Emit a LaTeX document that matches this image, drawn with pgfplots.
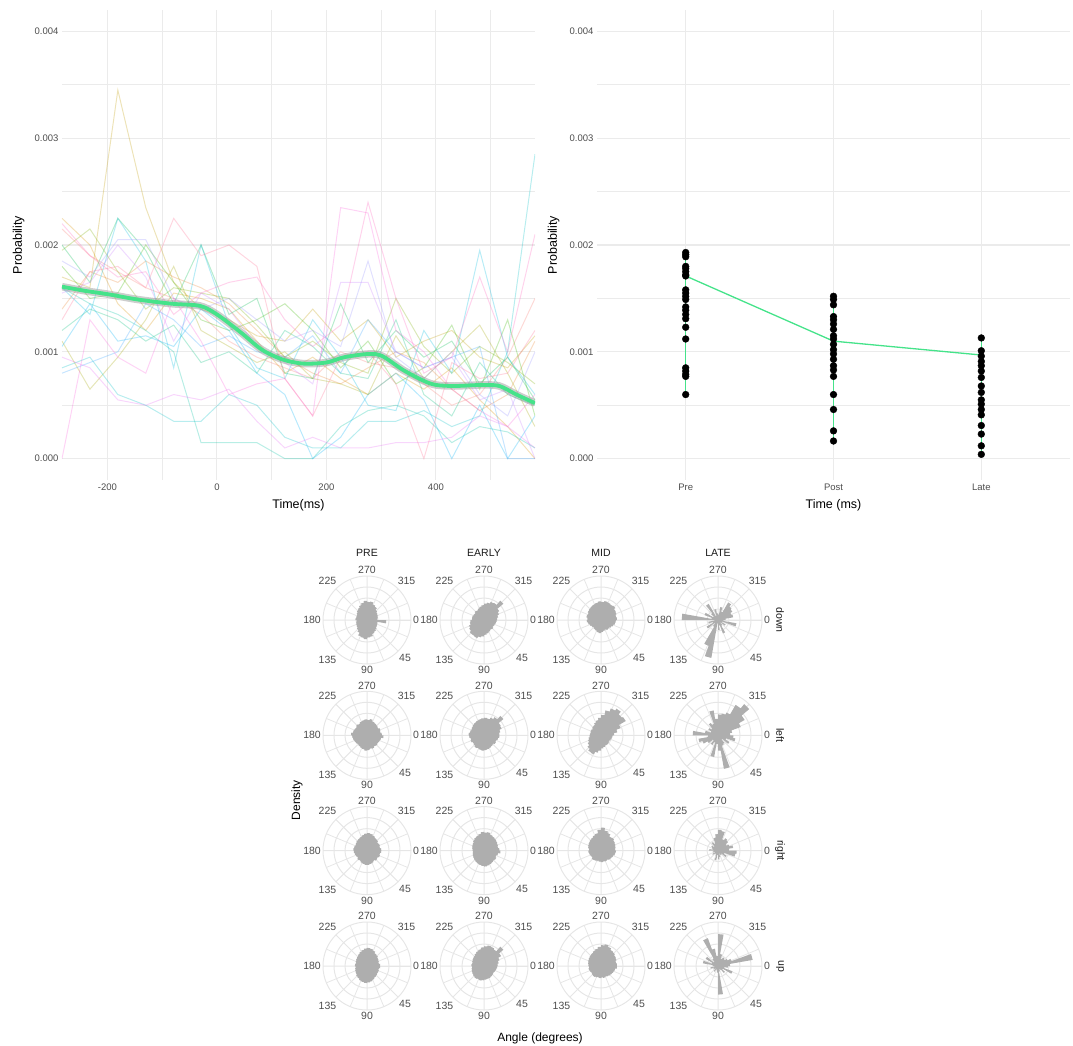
\documentclass[border=0pt]{standalone}
\usepackage{fontspec}
\setmainfont{Liberation Sans}
\usepackage{pgfplots}
\usepackage{pgfplotstable}
\pgfplotsset{compat=1.18}
\usepgfplotslibrary{polar}

\definecolor{gridc}{HTML}{EBEBEB}
\definecolor{pgridc}{HTML}{E6E6E6}
\definecolor{tickc}{HTML}{4D4D4D}
\definecolor{stripc}{HTML}{1A1A1A}
\definecolor{rosec}{HTML}{AEAEAE}
\definecolor{smoothg}{HTML}{45E38A}
\definecolor{h1}{HTML}{F8766D}\definecolor{h2}{HTML}{EA8331}\definecolor{h3}{HTML}{D89000}
\definecolor{h4}{HTML}{C09B00}\definecolor{h5}{HTML}{A3A500}\definecolor{h6}{HTML}{7CAE00}
\definecolor{h7}{HTML}{39B600}\definecolor{h8}{HTML}{00BB4E}\definecolor{h9}{HTML}{00BF7D}
\definecolor{h10}{HTML}{00C1A3}\definecolor{h11}{HTML}{00BFC4}\definecolor{h12}{HTML}{00BAE0}
\definecolor{h13}{HTML}{00B0F6}\definecolor{h14}{HTML}{35A2FF}\definecolor{h15}{HTML}{9590FF}
\definecolor{h16}{HTML}{C77CFF}\definecolor{h17}{HTML}{E76BF3}\definecolor{h18}{HTML}{FA62DB}
\definecolor{h19}{HTML}{FF62BC}\definecolor{h20}{HTML}{FF6C91}

\pgfplotstableread{
name b0 b1 b2 b3 b4 b5 b6 b7 b8 b9 b10 b11 b12 b13 b14 b15 b16 b17
t -283 -232 -181 -130 -79 -29 22 73 124 175 226 276 327 378 429 480 531 581
s1 0.00215 0.00190 0.00175 0.00160 0.00150 0.00135 0.00110 0.00095 0.00085 0.00075 0.00100 0.00090 0.00085 0.00070 0.00050 0.00060 0.00095 0.00150
s2 0.00140 0.00175 0.00165 0.00185 0.00170 0.00160 0.00145 0.00120 0.00095 0.00080 0.00070 0.00085 0.00100 0.00090 0.00065 0.00045 0.00060 0.00110
s3 0.00225 0.00200 0.00145 0.00120 0.00155 0.00150 0.00140 0.00110 0.00080 0.00095 0.00075 0.00060 0.00080 0.00065 0.00085 0.00055 0.00030 0.00000
s4 0.00170 0.00160 0.00345 0.00235 0.00165 0.00140 0.00130 0.00115 0.00110 0.00140 0.00110 0.00130 0.00095 0.00110 0.00120 0.00095 0.00085 0.00115
s5 0.00110 0.00065 0.00095 0.00130 0.00180 0.00120 0.00105 0.00090 0.00100 0.00075 0.00070 0.00060 0.00115 0.00075 0.00100 0.00125 0.00080 0.00030
s6 0.00195 0.00215 0.00175 0.00140 0.00160 0.00155 0.00150 0.00125 0.00095 0.00110 0.00090 0.00080 0.00150 0.00105 0.00080 0.00105 0.00090 0.00070
s7 0.00180 0.00150 0.00155 0.00200 0.00165 0.00130 0.00120 0.00130 0.00145 0.00120 0.00085 0.00110 0.00070 0.00085 0.00125 0.00065 0.00130 0.00040
s8 0.00200 0.00165 0.00225 0.00195 0.00145 0.00200 0.00135 0.00150 0.00080 0.00075 0.00145 0.00090 0.00120 0.00095 0.00110 0.00070 0.00095 0.00055
s9 0.00120 0.00140 0.00130 0.00110 0.00125 0.00090 0.00100 0.00080 0.00120 0.00105 0.00080 0.00075 0.00130 0.00060 0.00040 0.00090 0.00060 0.00050
s10 0.00160 0.00145 0.00135 0.00120 0.00100 0.00015 0.00015 0.00015 0.00000 0.00000 0.00030 0.00045 0.00050 0.00040 0.00015 0.00030 0.00025 0.00010
s11 0.00085 0.00095 0.00060 0.00050 0.00035 0.00035 0.00060 0.00050 0.00020 0.00010 0.00010 0.00035 0.00035 0.00045 0.00030 0.00040 0.00100 0.00285
s12 0.00160 0.00135 0.00225 0.00185 0.00085 0.00200 0.00125 0.00085 0.00075 0.00130 0.00095 0.00050 0.00045 0.00120 0.00080 0.00195 0.00095 0.00060
s13 0.00105 0.00145 0.00110 0.00115 0.00105 0.00140 0.00120 0.00080 0.00060 0.00000 0.00020 0.00060 0.00080 0.00055 0.00000 0.00050 0.00000 0.00040
s14 0.00080 0.00090 0.00100 0.00145 0.00130 0.00105 0.00115 0.00100 0.00095 0.00115 0.00080 0.00130 0.00100 0.00085 0.00095 0.00105 0.00000 0.00000
s15 0.00185 0.00170 0.00205 0.00205 0.00150 0.00140 0.00150 0.00130 0.00110 0.00120 0.00105 0.00185 0.00095 0.00075 0.00100 0.00060 0.00040 0.00100
s16 0.00155 0.00165 0.00200 0.00170 0.00110 0.00155 0.00140 0.00105 0.00090 0.00070 0.00165 0.00165 0.00100 0.00085 0.00095 0.00055 0.00065 0.00000
s17 0.00095 0.00085 0.00055 0.00050 0.00060 0.00055 0.00065 0.00035 0.00010 0.00020 0.00010 0.00010 0.00015 0.00015 0.00020 0.00040 0.00030 0.00010
s18 0.00000 0.00130 0.00095 0.00080 0.00150 0.00110 0.00060 0.00070 0.00075 0.00040 0.00235 0.00230 0.00120 0.00100 0.00065 0.00045 0.00030 0.00060
s19 0.00220 0.00190 0.00170 0.00175 0.00135 0.00155 0.00165 0.00170 0.00130 0.00105 0.00125 0.00240 0.00150 0.00080 0.00095 0.00170 0.00100 0.00210
s20 0.00130 0.00175 0.00180 0.00160 0.00225 0.00190 0.00200 0.00180 0.00075 0.00040 0.00095 0.00100 0.00070 0.00000 0.00090 0.00075 0.00080 0.00120
}\rawlines
\pgfplotstabletranspose[colnames from=name, input colnames to=bin]{\lines}{\rawlines}

\pgfplotstableread{
t p
-283 0.00161
-240 0.00157
-200 0.00154
-145 0.00149
-82 0.00145
-31 0.00143
0 0.00135
44 0.00118
82 0.00102
119 0.00093
157 0.00089
200 0.00090
233 0.00095
277 0.00098
302 0.00096
340 0.00083
377 0.00073
400 0.00069
434 0.00068
484 0.00069
516 0.00068
547 0.00060
581 0.00052
}\smoothdata

\newcount\rosebin
\newcommand\buildrose[1]{%
  \gdef\rosecoords{}\global\rosebin=0
  \foreach \rv in {#1}{%
    \pgfmathtruncatemacro\ra{360-10*\the\rosebin}%
    \pgfmathtruncatemacro\rb{350-10*\the\rosebin}%
    \xdef\rosecoords{\rosecoords (\ra,\rv) (\rb,\rv)}%
    \global\advance\rosebin by 1
  }}
\newcommand\roseplot[1]{%
  \buildrose{#1}%
  \edef\tmp{\noexpand\addplot[fill=rosec, draw=none] coordinates {\rosecoords} -- cycle;}\tmp}

\pgfplotsset{
  every axis x label/.style={at={(axis description cs:0.5,-0.034)}, anchor=north},
  every axis y label/.style={at={(axis description cs:-0.072,0.5)}, rotate=90, anchor=south},
  topax/.style={scale only axis, width=473pt, height=470pt, anchor=south west,
    ymin=-0.0002, ymax=0.0042, ytick={0,0.001,0.002,0.003,0.004},
    yticklabels={0.000,0.001,0.002,0.003,0.004},
    minor ytick={0.0005,0.0015,0.0025,0.0035}, scaled y ticks=false, scaled x ticks=false,
    ymajorgrids, yminorgrids, xmajorgrids,
    major grid style={draw=gridc, line width=1.1pt},
    minor grid style={draw=gridc, line width=0.7pt},
    axis line style={draw=none}, major tick length=0pt, minor tick length=0pt,
    tick label style={font=\fontsize{9.5}{11}\selectfont, text=tickc},
    label style={font=\fontsize{12.5}{14}\selectfont}},
  rose/.style={scale only axis, width=88pt, height=88pt, anchor=center,
    xmin=0, xmax=360, ymin=0, ymax=4,
    xtick={0,45,...,315}, xticklabels={0,315,270,225,180,135,90,45},
    minor xtick={22.5,67.5,...,337.5},
    ytick={1,2,3}, yticklabel style={text opacity=0, opacity=0},
    xmajorgrids, xminorgrids, ymajorgrids,
    major grid style={draw=pgridc, line width=1pt},
    minor grid style={draw=pgridc, line width=0.8pt},
    axis line style={draw=pgridc, line width=1pt},
    major tick length=0pt, minor tick length=0pt,
    xticklabel style={font=\fontsize{10.5}{12}\selectfont, text=tickc, inner sep=2pt},
    clip=false}
}

\begin{document}
\begin{tikzpicture}
\useasboundingbox (0,0) rectangle (1073pt,-1046pt);

% ---------- top left ----------
\begin{axis}[topax, at={(62pt,-480pt)},
  xmin=-283, xmax=581, xtick={-200,0,200,400}, xticklabels={-200,0,200,400},
  minor xtick={-100,100,300,500}, xminorgrids,
  xlabel={Time(ms)}, ylabel={Probability}]
\pgfplotsinvokeforeach{1,...,20}{
  \addplot[draw=h#1, line width=1pt, draw opacity=0.28, forget plot] table[x=t, y=s#1]{\lines};
}
\addplot[draw=gray!85, line width=7.5pt, draw opacity=0.45, smooth] table[x=t,y=p]{\smoothdata};
\addplot[draw=smoothg, line width=3.8pt, smooth] table[x=t,y=p]{\smoothdata};
\end{axis}

% ---------- top right ----------
\begin{axis}[topax, at={(597pt,-480pt)},
  xmin=0.4, xmax=3.6, xtick={1,2,3}, xticklabels={Pre,Post,Late},
  xlabel={Time (ms)}, ylabel={Probability}]
\addplot[only marks, mark=*, mark size=3.4pt, black] coordinates {
(1,0.00193) (1,0.00191) (1,0.00189) (1,0.00180) (1,0.00178) (1,0.00175) (1,0.00172) (1,0.00171)
(1,0.00158) (1,0.00155) (1,0.00152) (1,0.00149) (1,0.00142) (1,0.00139) (1,0.00135) (1,0.00131)
(1,0.00123) (1,0.00112) (1,0.00085) (1,0.00082) (1,0.00079) (1,0.00077) (1,0.00060)
(2,0.00152) (2,0.00149) (2,0.00144) (2,0.00133) (2,0.00130) (2,0.00126) (2,0.00121) (2,0.00115)
(2,0.00112) (2,0.00107) (2,0.00102) (2,0.00098) (2,0.00093) (2,0.00087) (2,0.00083) (2,0.00077)
(2,0.00060) (2,0.00046) (2,0.00026) (2,0.000165)
(3,0.00113) (3,0.00101) (3,0.00096) (3,0.00091) (3,0.00087) (3,0.00082) (3,0.00076) (3,0.00068)
(3,0.00062) (3,0.00055) (3,0.00051) (3,0.00046) (3,0.00041) (3,0.00031) (3,0.00023) (3,0.00012)
(3,0.00004)};
\addplot[smoothg, line width=1.3pt] coordinates {(1,0.00060) (1,0.00193)};
\addplot[smoothg, line width=1.3pt] coordinates {(2,0.000165) (2,0.00152)};
\addplot[smoothg, line width=1.3pt] coordinates {(3,0.00004) (3,0.00113)};
\addplot[smoothg, line width=1.3pt] coordinates {(1,0.00171) (2,0.00110) (3,0.00097)};
\end{axis}

% ---------- polar grid: rows down,left,right,up ; cols PRE,EARLY,MID,LATE ----------
% row down
\begin{polaraxis}[rose, at={(367pt,-620pt)}]
\roseplot{1.75,0.95,1.0,1.05,1.15,1.25,1.35,1.55,1.6,1.75,1.65,1.6,1.35,1.2,1.1,1.05,1.0,0.95,1.05,1.0,1.0,1.1,1.2,1.3,1.45,1.6,1.75,1.65,1.7,1.5,1.4,1.2,1.1,1.05,1.0,0.95}
\end{polaraxis}
\begin{polaraxis}[rose, at={(484pt,-620pt)}]
\roseplot{1.15,1.1,1.05,1.0,1.1,1.05,1.15,1.25,1.35,1.5,1.6,1.75,1.7,1.7,1.55,1.45,1.3,1.25,1.1,1.1,1.05,1.0,1.1,1.05,1.15,1.25,1.35,1.5,1.6,1.75,1.8,2.3,1.6,1.45,1.3,1.2}
\end{polaraxis}
\begin{polaraxis}[rose, at={(601pt,-620pt)}]
\roseplot{1.35,1.3,1.2,1.1,1.0,1.05,0.95,1.0,1.1,1.2,1.15,1.05,1.0,0.95,1.0,1.1,1.2,1.3,1.25,1.35,1.3,1.4,1.45,1.5,1.55,1.6,1.7,1.65,1.75,1.7,1.65,1.7,1.55,1.5,1.4,1.45}
\end{polaraxis}
\begin{polaraxis}[rose, at={(718pt,-620pt)}]
\roseplot{0.5,1.7,0.4,0.8,0.3,0.6,1.3,0.5,0.9,0.3,3.5,2.5,0.7,0.4,1.2,0.5,0.9,0.3,3.3,0.6,1.3,0.5,0.8,1.7,0.4,1.0,0.6,0.5,1.2,0.8,1.85,1.6,1.5,1.3,1.4,0.7}
\end{polaraxis}
% row left
\begin{polaraxis}[rose, at={(367pt,-735.3pt)}]
\roseplot{1.5,1.3,1.25,1.2,1.25,1.2,1.3,1.25,1.35,1.4,1.3,1.25,1.2,1.15,1.2,1.25,1.3,1.35,1.45,1.3,1.25,1.2,1.3,1.25,1.35,1.4,1.45,1.4,1.5,1.35,1.3,1.25,1.2,1.3,1.25,1.35}
\end{polaraxis}
\begin{polaraxis}[rose, at={(484pt,-735.3pt)}]
\roseplot{1.4,1.3,1.2,1.25,1.15,1.2,1.25,1.3,1.35,1.4,1.35,1.3,1.35,1.25,1.2,1.3,1.25,1.35,1.4,1.3,1.25,1.3,1.35,1.4,1.45,1.5,1.55,1.6,1.55,1.7,1.9,2.3,1.75,1.7,1.5,1.4}
\end{polaraxis}
\begin{polaraxis}[rose, at={(601pt,-735.3pt)}]
\roseplot{1.05,1.0,0.95,0.9,0.95,1.0,1.0,1.1,1.2,1.4,1.6,1.85,1.8,1.6,1.4,1.25,1.15,1.05,1.0,0.95,1.0,0.95,1.05,1.1,1.25,1.4,1.6,1.85,2.3,2.6,2.8,2.5,2.6,1.9,1.5,1.2}
\end{polaraxis}
\begin{polaraxis}[rose, at={(718pt,-735.3pt)}]
\roseplot{1.4,1.6,0.8,1.2,0.5,0.9,1.0,3.1,1.4,0.8,2.0,0.7,1.0,0.6,1.1,1.5,1.8,0.9,2.3,1.2,0.7,1.0,0.8,1.3,1.1,2.3,1.5,1.9,2.0,2.2,3.2,3.7,2.8,2.2,1.3,1.1}
\end{polaraxis}
% row right
\begin{polaraxis}[rose, at={(367pt,-850.6pt)}]
\roseplot{1.3,1.2,1.25,1.15,1.2,1.1,1.2,1.25,1.3,1.3,1.25,1.2,1.1,1.15,1.05,1.1,1.15,1.2,1.25,1.2,1.15,1.2,1.25,1.3,1.35,1.45,1.55,1.6,1.55,1.45,1.35,1.3,1.2,1.25,1.2,1.3}
\end{polaraxis}
\begin{polaraxis}[rose, at={(484pt,-850.6pt)}]
\roseplot{1.5,1.3,1.2,1.3,1.25,1.3,1.35,1.4,1.45,1.4,1.35,1.3,1.25,1.2,1.15,1.1,1.05,1.0,1.05,1.1,1.15,1.2,1.3,1.4,1.45,1.55,1.7,1.65,1.7,1.55,1.5,1.45,1.4,1.35,1.3,1.4}
\end{polaraxis}
\begin{polaraxis}[rose, at={(601pt,-850.6pt)}]
\roseplot{1.35,1.3,1.2,1.15,1.1,1.0,1.05,1.0,1.05,1.0,0.95,1.0,1.05,1.1,1.0,1.05,1.1,1.15,1.1,1.2,1.25,1.3,1.35,1.4,1.5,1.6,1.9,2.1,1.85,1.7,1.5,1.55,1.45,1.4,1.35,1.3}
\end{polaraxis}
\begin{polaraxis}[rose, at={(718pt,-850.6pt)}]
\roseplot{1.7,1.6,0.6,0.9,0.4,0.5,0.3,0.6,0.8,0.4,0.9,0.5,0.3,0.4,0.6,0.3,0.5,0.4,0.8,0.5,0.6,0.7,0.5,0.9,0.7,1.2,1.5,1.9,1.8,1.1,1.3,1.2,0.9,1.1,1.4,1.0}
\end{polaraxis}
% row up
\begin{polaraxis}[rose, at={(367pt,-966pt)}]
\roseplot{1.2,1.1,1.15,1.15,1.2,1.25,1.35,1.45,1.5,1.55,1.5,1.45,1.35,1.3,1.2,1.15,1.1,1.05,1.1,1.05,1.1,1.15,1.2,1.3,1.4,1.5,1.6,1.65,1.6,1.5,1.35,1.3,1.2,1.15,1.1,1.2}
\end{polaraxis}
\begin{polaraxis}[rose, at={(484pt,-966pt)}]
\roseplot{1.2,1.15,1.1,1.05,1.1,1.15,1.2,1.2,1.25,1.3,1.35,1.3,1.35,1.3,1.25,1.2,1.15,1.1,1.15,1.1,1.15,1.2,1.25,1.35,1.45,1.55,1.7,1.8,1.9,1.85,1.75,2.3,1.8,1.5,1.35,1.25}
\end{polaraxis}
\begin{polaraxis}[rose, at={(601pt,-966pt)}]
\roseplot{1.45,1.3,1.25,1.2,1.15,1.1,1.05,1.1,1.05,1.1,1.05,1.1,1.15,1.1,1.05,1.1,1.15,1.1,1.15,1.2,1.25,1.3,1.35,1.4,1.5,1.6,1.75,1.9,2.0,1.85,1.7,1.65,1.55,1.5,1.4,1.45}
\end{polaraxis}
\begin{polaraxis}[rose, at={(718pt,-966pt)}]
\roseplot{0.9,0.6,1.4,0.5,0.8,0.4,0.3,0.5,2.6,0.6,0.4,0.3,0.6,0.3,0.5,0.4,0.7,0.3,0.5,1.4,0.6,1.3,0.5,0.8,2.7,1.6,0.9,2.9,1.1,0.7,0.9,0.8,1.0,1.3,3.2,1.1}
\end{polaraxis}

% strip and axis titles
\begin{scope}[every node/.style={font=\fontsize{10.5}{12}\selectfont, text=stripc}]
\node at (367pt,-553pt) {PRE};
\node at (484pt,-553pt) {EARLY};
\node at (601pt,-553pt) {MID};
\node at (718pt,-553pt) {LATE};
\node[rotate=-90] at (780pt,-620pt) {down};
\node[rotate=-90] at (780pt,-735.3pt) {left};
\node[rotate=-90] at (780pt,-850.6pt) {right};
\node[rotate=-90] at (780pt,-966pt) {up};
\end{scope}
\node[rotate=90, font=\fontsize{12}{14}\selectfont] at (297pt,-800pt) {Density};
\node[font=\fontsize{12}{14}\selectfont] at (540pt,-1038pt) {Angle (degrees)};
\end{tikzpicture}
\end{document}
